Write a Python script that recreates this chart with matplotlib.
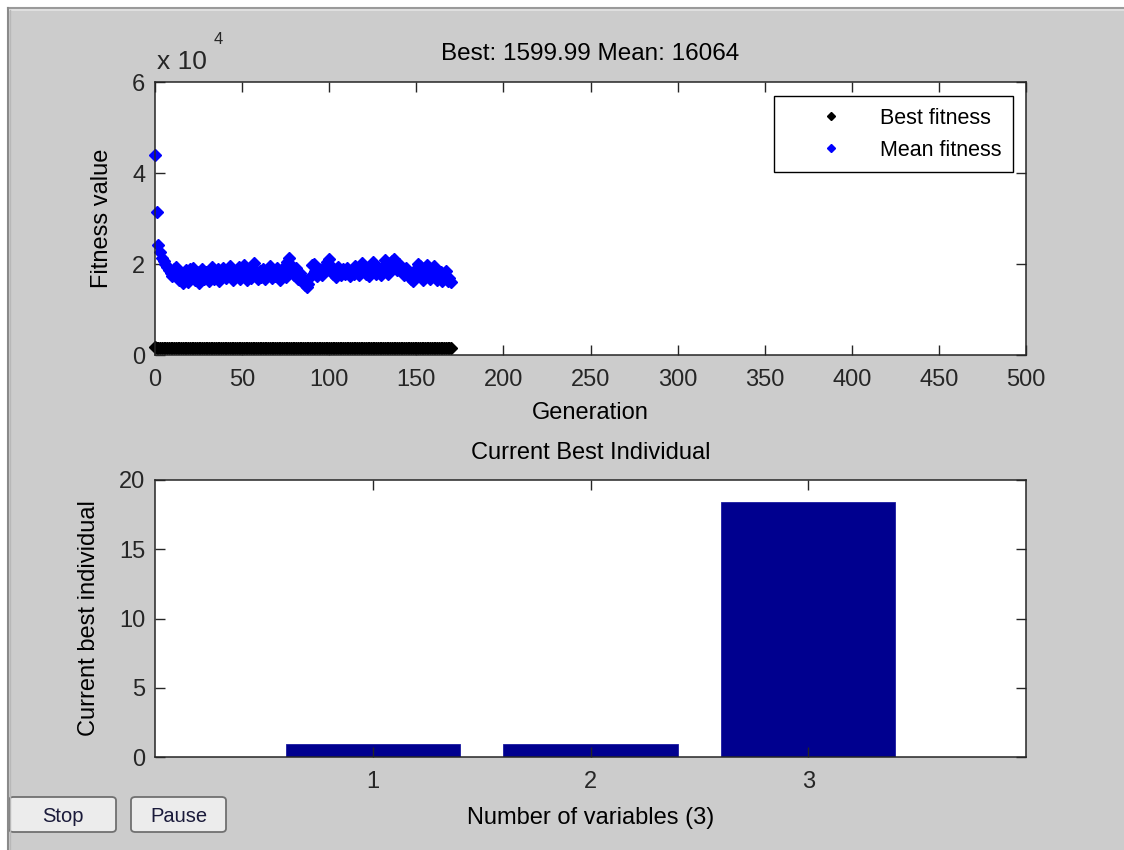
import numpy as np
import matplotlib
matplotlib.use("Agg")
import matplotlib.pyplot as plt
from matplotlib.ticker import FuncFormatter
from matplotlib.patches import Rectangle, FancyBboxPatch
from matplotlib.lines import Line2D

plt.rcParams["font.family"] = ["Liberation Sans", "DejaVu Sans"]
font = {'size': 17}
matplotlib.rc('font', **font)

# ---- data ----
generations = np.arange(0, 171)

mean_fitness = [
    44000, 31500, 24200, 22600, 21300, 20600, 20100, 19400, 18600, 18000,
    17400, 18900, 19300, 17200, 16400, 18100, 15800, 17900, 18600, 16100,
    18800, 17600, 19200, 16500, 18300, 15900, 17700, 19000, 16800, 18200,
    17100, 16200, 18700, 19400, 16600, 17800, 18900, 16300, 17500, 19100,
    18000, 16900, 17300, 19600, 17200, 16400, 18500, 17600, 19300, 16800,
    18100, 19700, 17400, 16500, 18800, 17000, 19200, 20300, 17900, 16700,
    18400, 17100, 19000, 16600, 18200, 17700, 19500, 16900, 18600, 17300,
    19100, 17800, 16500, 18300, 19400, 17200, 20400, 21300, 19800, 18400,
    17600, 19100, 16800, 18000, 17400, 16200, 15300, 14900, 15600, 17200,
    19700, 20100, 18500, 17300, 19000, 18200, 17600, 19400, 18800, 20500,
    21200, 19600, 17900, 18600, 17200, 19300, 18000, 17500, 18900, 17700,
    19200, 18100, 17400, 18700, 17900, 19500, 18300, 17600, 18900, 20200,
    19000, 17800, 18500, 17300, 19800, 20400, 18600, 17700, 19100, 18200,
    17500, 19600, 20800, 18900, 17800, 19300, 20600, 21000, 19400, 18700,
    19900, 19300, 18600, 17600, 19200, 18100, 17400, 16600, 16200, 17900,
    18800, 20100, 19500, 17300, 16400, 18600, 19700, 17800, 16700, 18900,
    19600, 17500, 16500, 17100, 18200, 16300, 17600, 18400, 16200, 17000,
    16064,
]

best_fitness = [
    1652.1, 1640.3, 1631.8, 1624.5, 1618.2, 1614.7, 1611.0, 1608.6, 1606.9, 1605.2,
    1604.4, 1603.8, 1603.1, 1602.7, 1602.2, 1601.9, 1601.6, 1601.4, 1601.2, 1601.0,
    1600.9, 1600.8, 1600.7, 1600.6, 1600.5, 1600.5, 1600.4, 1600.4, 1600.3, 1600.3,
    1600.3, 1600.2, 1600.2, 1600.2, 1600.2, 1600.1, 1600.1, 1600.1, 1600.1, 1600.1,
    1600.1, 1600.1, 1600.1, 1600.1, 1600.1, 1600.0, 1600.0, 1600.0, 1600.0, 1600.0,
    1600.0, 1600.0, 1600.0, 1600.0, 1600.0, 1600.0, 1600.0, 1600.0, 1600.0, 1600.0,
    1600.0, 1600.0, 1600.0, 1600.0, 1600.0, 1600.0, 1600.0, 1600.0, 1600.0, 1600.0,
    1600.0, 1600.0, 1600.0, 1600.0, 1600.0, 1600.0, 1600.0, 1600.0, 1600.0, 1600.0,
    1600.0, 1600.0, 1600.0, 1600.0, 1600.0, 1600.0, 1600.0, 1600.0, 1600.0, 1600.0,
    1600.0, 1600.0, 1600.0, 1600.0, 1600.0, 1600.0, 1600.0, 1600.0, 1600.0, 1600.0,
    1599.99, 1599.99, 1599.99, 1599.99, 1599.99, 1599.99, 1599.99, 1599.99, 1599.99, 1599.99,
    1599.99, 1599.99, 1599.99, 1599.99, 1599.99, 1599.99, 1599.99, 1599.99, 1599.99, 1599.99,
    1599.99, 1599.99, 1599.99, 1599.99, 1599.99, 1599.99, 1599.99, 1599.99, 1599.99, 1599.99,
    1599.99, 1599.99, 1599.99, 1599.99, 1599.99, 1599.99, 1599.99, 1599.99, 1599.99, 1599.99,
    1599.99, 1599.99, 1599.99, 1599.99, 1599.99, 1599.99, 1599.99, 1599.99, 1599.99, 1599.99,
    1599.99, 1599.99, 1599.99, 1599.99, 1599.99, 1599.99, 1599.99, 1599.99, 1599.99, 1599.99,
    1599.99, 1599.99, 1599.99, 1599.99, 1599.99, 1599.99, 1599.99, 1599.99, 1599.99, 1599.99,
    1599.99,
]

variables = [1, 2, 3]
best_individual = [0.95, 0.95, 18.4]

gray = '#cccccc'
W, H = 1124, 850

fig = plt.figure(figsize=(W / 100, H / 100), dpi=100, facecolor=gray)

# window frame (white outer strip + bevel lines)
fig.patches.append(Rectangle((0, 1 - 7 / H), 1, 7 / H, transform=fig.transFigure,
                             facecolor='white', edgecolor='none'))
fig.patches.append(Rectangle((0, 0), 7 / W, 1, transform=fig.transFigure,
                             facecolor='white', edgecolor='none'))
fig.lines.append(Line2D([7.5 / W, 1], [1 - 8 / H, 1 - 8 / H], transform=fig.transFigure,
                        color='#9a9a9a', lw=1.5))
fig.lines.append(Line2D([7.5 / W, 1], [1 - 10 / H, 1 - 10 / H], transform=fig.transFigure,
                        color='#e4e4e4', lw=1.2))
fig.lines.append(Line2D([8 / W, 8 / W], [0, 1 - 8 / H], transform=fig.transFigure,
                        color='#8a8a8a', lw=1.5))
fig.lines.append(Line2D([10 / W, 10 / W], [0, 1 - 10 / H], transform=fig.transFigure,
                        color='#b8b8b8', lw=1.0))


def matlab_axes(ax):
    ax.set_facecolor('white')
    for edge, spine in ax.spines.items():
        spine.set_linewidth(1.1)
        spine.set_color('#262626')
    ax.tick_params(direction='in', top=True, right=True, length=7, width=1.0,
                   pad=7, labelsize=17, colors='#262626')
    ax.tick_params(axis='x', pad=10)


# ---- top: fitness per generation ----
ax1 = fig.add_axes([155 / W, 1 - 355 / H, 871 / W, 273 / H])
matlab_axes(ax1)
ax1.plot(generations, best_fitness, linestyle='none', marker='D', markersize=6.5,
         color='black', label='Best fitness', clip_on=False)
ax1.plot(generations, mean_fitness, linestyle='none', marker='D', markersize=6.5,
         color='#0000ff', label='Mean fitness', clip_on=False)
ax1.set_xlim(0, 500)
ax1.set_ylim(0, 60000)
ax1.set_xticks(np.arange(0, 501, 50))
ax1.set_yticks([0, 20000, 40000, 60000])
ax1.yaxis.set_major_formatter(FuncFormatter(lambda v, p: "%g" % (v / 1e4)))
ax1.set_xlabel('Generation', labelpad=8)
ax1.set_ylabel('Fitness value', labelpad=14)
ax1.set_title('Best: %.2f Mean: %d' % (best_fitness[-1], mean_fitness[-1]),
              pad=16, fontsize=17.5)
# exponent label like MATLAB
fig.text(157 / W, 1 - 62 / H, 'x 10', fontsize=19, va='center', ha='left', color='#262626')
fig.text(214 / W, 1 - 40 / H, '4', fontsize=12, va='center', ha='left', color='#262626')

leg = ax1.legend(loc='upper right', bbox_to_anchor=(0.985, 0.949), borderaxespad=0,
                 fancybox=False, edgecolor='black', framealpha=1, fontsize=15.5,
                 markerscale=0.7, handlelength=4.2, handletextpad=0.15,
                 borderpad=0.55, labelspacing=0.5)
leg.get_frame().set_linewidth(1.0)

# ---- bottom: current best individual ----
ax2 = fig.add_axes([155 / W, 1 - 757 / H, 871 / W, 277 / H])
matlab_axes(ax2)
ax2.bar(variables, best_individual, width=0.8, color='#00008f', edgecolor='#1a1aa0',
        linewidth=0.6)
ax2.set_xlim(0, 4)
ax2.set_ylim(0, 20)
ax2.set_xticks(variables)
ax2.set_yticks([0, 5, 10, 15, 20])
ax2.set_xlabel('Number of variables (%d)' % len(variables), labelpad=10)
ax2.set_ylabel('Current best individual', labelpad=14)
ax2.set_title('Current Best Individual', pad=15, fontsize=17)

# ---- Stop / Pause buttons ----
for label, x0, x1 in [('Stop', 9, 116), ('Pause', 131, 226)]:
    btn = FancyBboxPatch((x0 / W, 1 - 832 / H), (x1 - x0) / W, 35 / H,
                         boxstyle='round,pad=0,rounding_size=0.004',
                         transform=fig.transFigure, facecolor='#ececec',
                         edgecolor='#707070', linewidth=1.3)
    fig.patches.append(btn)
    fig.text((x0 + x1) / 2 / W, 1 - 816 / H, label, fontsize=14.5, ha='center',
             va='center', color='#1a1a3a')

plt.savefig('out.png', dpi=100, facecolor=gray)
